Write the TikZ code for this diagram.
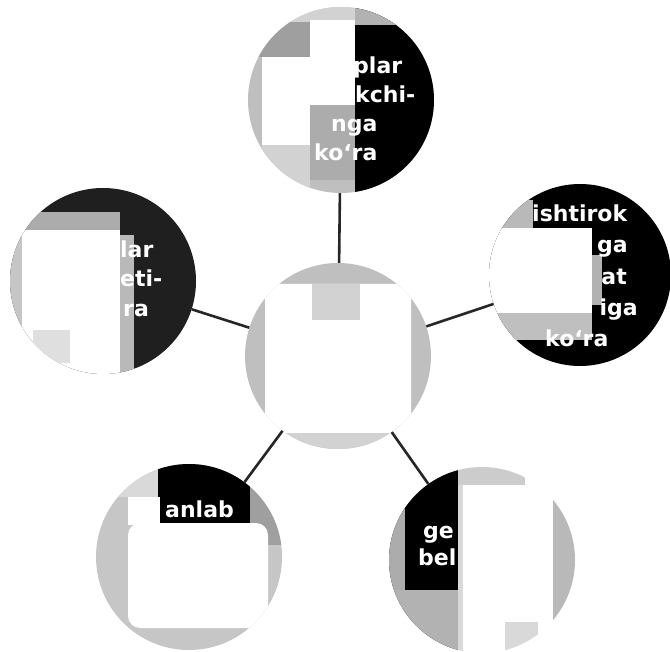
\documentclass[tikz,border=0pt]{standalone}
\usepackage{fontspec}
\setmainfont{DejaVu Sans}
\begin{document}
\begin{tikzpicture}[x=1pt,y=-1pt,
  ball/.style={circle,minimum size=186pt,inner sep=0pt,draw=none},
  link/.style={line width=2.6pt,draw=black!85},
  lbl/.style={inner sep=0pt,text=white,font=\bfseries\fontsize{22}{22}\selectfont},
]
\useasboundingbox (0,0) rectangle (670,652);
\fill[white] (0,0) rectangle (670,652);

% circle nodes (names for connectors)
\node[ball] (T) at (341,100) {};
\node[ball] (L) at (103,281) {};
\node[ball,minimum size=182pt] (R) at (580,275) {};
\node[ball] (C) at (338,356) {};
\node[ball] (BL) at (189,557) {};
\node[ball] (BR) at (482,560) {};

% top circle
\begin{scope}
\clip (T.center) circle (93pt);
\fill[gray!50] (240,0) rectangle (440,200);
\fill[black] (355,0) rectangle (440,200);
\fill[gray!60] (355,0) rectangle (400,25);
\fill[gray!35] (240,0) rectangle (355,22);
\fill[gray!75] (255,22) rectangle (310,57);
\fill[gray!65] (310,105) rectangle (355,180);
\fill[gray!35] (262,145) rectangle (310,200);
\fill[white] (262,57) rectangle (310,145);
\fill[white] (310,20) rectangle (355,105);
\end{scope}

% left circle
\begin{scope}
\clip (L.center) circle (93pt);
\fill[black!88] (0,180) rectangle (200,380);
\fill[gray!65] (10,212) rectangle (120,230);
\fill[gray!45] (0,228) rectangle (22,340);
\fill[white] (22,230) rectangle (120,380);
\fill[gray!55] (120,235) rectangle (134,380);
\fill[gray!25] (33,330) rectangle (70,363);
\end{scope}

% right circle
\begin{scope}
\clip (R.center) circle (91pt);
\fill[black] (480,175) rectangle (680,380);
\fill[gray!55] (480,200) rectangle (533,228);
\fill[gray!50] (480,313) rectangle (592,340);
\fill[white] (480,228) rectangle (592,313);
\fill[gray!60] (592,255) rectangle (602,305);
\end{scope}

% centre circle
\begin{scope}
\clip (C.center) circle (93pt);
\fill[gray!50] (240,255) rectangle (440,460);
\fill[gray!35] (240,433) rectangle (440,460);
\fill[white,rounded corners=10pt] (265,284) rectangle (411,433);
\fill[gray!35] (312,284) rectangle (360,320);
\end{scope}

% bottom-left circle
\begin{scope}
\clip (BL.center) circle (93pt);
\fill[gray!45] (90,460) rectangle (290,660);
\fill[gray!30] (110,465) rectangle (160,497);
\fill[gray!75] (225,470) rectangle (290,545);
\fill[black] (158,458) rectangle (250,525);
\fill[white] (128,497) rectangle (160,525);
\fill[white,rounded corners=12pt] (128,523) rectangle (268,628);
\end{scope}

% bottom-right circle
\begin{scope}
\clip (BR.center) circle (93pt);
\fill[black] (385,460) rectangle (458,660);
\fill[gray!65] (385,505) rectangle (405,590);
\fill[gray!60] (385,590) rectangle (458,660);
\fill[white] (458,460) rectangle (590,660);
\fill[gray!40] (458,465) rectangle (525,485);
\fill[gray!55] (553,480) rectangle (590,640);
\fill[gray!30] (505,622) rectangle (538,660);
\fill[gray!30] (458,485) rectangle (463,660);
\end{scope}

% connectors
\draw[link] (T) -- (C);
\draw[link] (L) -- (C);
\draw[link] (R) -- (C);
\draw[link] (BL) -- (C);
\draw[link] (BR) -- (C);

% texts
\node[lbl,anchor=base west] (t1) at (353,74) {plar};
\node[lbl,anchor=base west] (t2) at (355,103) {kchi-};
\node[lbl,anchor=base west] (t3) at (331,132) {nga};
\node[lbl,anchor=base west] (t4) at (314,161) {ko‘ra};

\node[lbl,anchor=base west] (l1) at (120,258) {lar};
\node[lbl,anchor=base west] (l2) at (120,287) {eti-};
\node[lbl,anchor=base west] (l3) at (123,317) {ra};

\node[lbl,anchor=base west] (r1) at (532,222) {ishtirok};
\node[lbl,anchor=base east] (r2) at (628,253) {ga};
\node[lbl,anchor=base east] (r3) at (627,285) {at};
\node[lbl,anchor=base east] (r4) at (638,316) {iga};
\node[lbl,anchor=base west] (r5) at (545,347) {ko‘ra};

\node[lbl,anchor=base west] (b1) at (165,517) {anlab};

\node[lbl,anchor=base west] (c1) at (423,538) {ge};
\node[lbl,anchor=base west] (c2) at (418,565) {bel};
\end{tikzpicture}
\end{document}
